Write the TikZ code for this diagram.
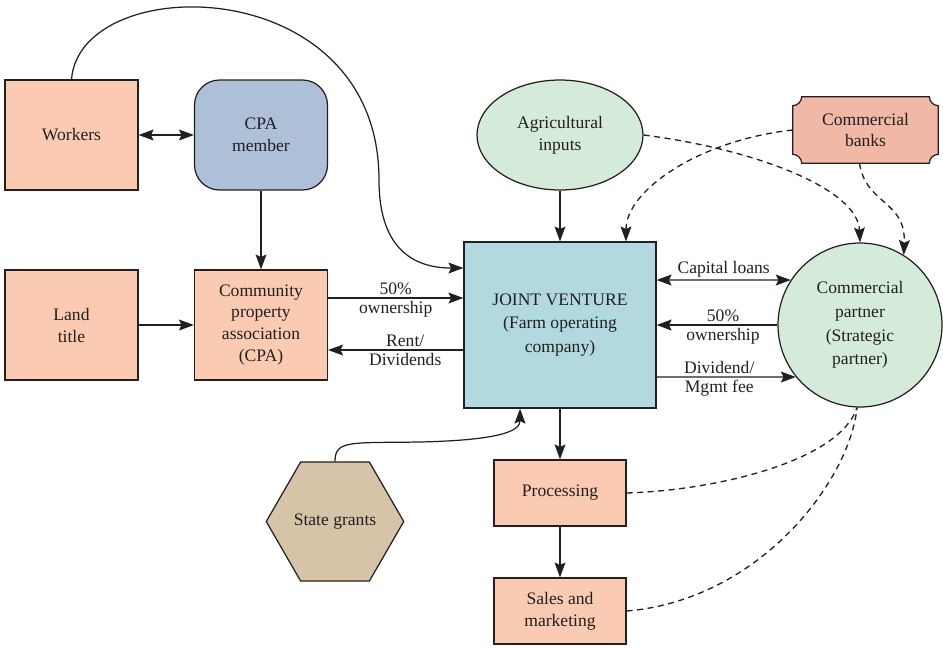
\documentclass[tikz,border=0pt]{standalone}
\usepackage{fontspec}
\setmainfont{Liberation Serif}
\usepackage{tikz}
\usetikzlibrary{positioning,calc}
\usetikzlibrary{arrows.meta,shapes.geometric,backgrounds}
\definecolor{InkGray}{RGB}{35,31,32}
\definecolor{PeachFill}{RGB}{250,203,178}
\definecolor{MemberBlue}{RGB}{174,191,216}
\definecolor{VentureBlue}{RGB}{179,217,224}
\definecolor{MintFill}{RGB}{213,235,218}
\definecolor{BankSalmon}{RGB}{241,184,165}
\definecolor{GrantTan}{RGB}{213,196,168}
\tikzset{
	>={Stealth[length=8.5pt,width=6.2pt,inset=1.5pt]},
	every node/.style={text=InkGray,font=\fontsize{10}{12.5}\selectfont},
	box/.style={draw=InkGray,fill=PeachFill,line width=0.7pt,align=center,
		minimum width=2.66cm,minimum height=2.2cm,inner sep=2pt},
	flowbox/.style={box,minimum width=2.64cm,minimum height=1.32cm},
	rbox/.style={box,fill=MemberBlue,rounded corners=0.5cm},
	venture/.style={box,fill=VentureBlue,minimum width=3.84cm,minimum height=3.32cm,
		font=\fontsize{10}{13.5}\selectfont},
	oval/.style={draw=InkGray,fill=MintFill,line width=0.7pt,ellipse,align=center,
		minimum width=3.32cm,minimum height=2.2cm,inner sep=0pt},
	disc/.style={draw=InkGray,fill=MintFill,line width=0.7pt,circle,align=center,
		minimum size=3.28cm,inner sep=0pt,font=\fontsize{10}{13.5}\selectfont},
	hexa/.style={draw=InkGray,fill=GrantTan,line width=0.7pt,regular polygon,
		regular polygon sides=6,minimum size=2.75cm,inner sep=0pt},
	plaque/.style={align=center,minimum width=2.9cm,minimum height=1.32cm,inner sep=0pt},
	link/.style={draw=InkGray,line width=0.7pt},
	dlink/.style={link,line width=0.75pt,dash pattern=on 3.4pt off 2.6pt},
	lbl/.style={inner sep=1.5pt},
}

\begin{document}
\begin{tikzpicture}[x=0.02cm,y=0.02cm]
	\useasboundingbox (0,0) rectangle (943,-647);
	% boxes on the left
	\node[box] (workers) at (71.5,-135) {Workers};
	\node[rbox] (member) at (261,-135) {CPA\\member};
	\node[box] (land) at (71.5,-325) {Land\\title};
	\node[box] (cpa) at (261,-325) {Community\\property\\association\\(CPA)};
	% centre column
	\node[oval] (inputs) at (560,-135) {Agricultural\\inputs};
	\node[venture] (jv) at (560,-325) {JOINT VENTURE\\(Farm operating\\company)};
	\node[flowbox] (proc) at (560,-493) {Processing};
	\node[flowbox] (sales) at (560,-611) {Sales and\\marketing};
	\node[hexa] (grants) at (335,-521.5) {State grants};
	% right side
	\node[plaque] (banks) at (865.5,-130) {Commercial\\banks};
	\node[disc] (partner) at (860,-325) {Commercial\\partner\\(Strategic\\partner)};
	\begin{scope}[on background layer]
		\draw[link,fill=BankSalmon] ([xshift=0.18cm]banks.north west) -- ([xshift=-0.18cm]banks.north east)
			arc[start angle=180,end angle=270,radius=0.18cm] -- ([yshift=0.18cm]banks.south east)
			arc[start angle=90,end angle=180,radius=0.18cm] -- ([xshift=0.18cm]banks.south west)
			arc[start angle=0,end angle=90,radius=0.18cm] -- ([yshift=-0.18cm]banks.north west)
			arc[start angle=270,end angle=360,radius=0.18cm] -- cycle;
	\end{scope}
	% solid connectors
	\draw[link,<->] (workers) -- (member);
	\draw[link,->] (member) -- (cpa);
	\draw[link,->] (land) -- (cpa);
	\draw[link,->] ([yshift=0.54cm]cpa.east) -- ([yshift=0.54cm]jv.west)
		node[lbl,above,midway] {50\%} node[lbl,below,midway] {ownership};
	\draw[link,->] ([yshift=-0.5cm]jv.west) -- ([yshift=-0.5cm]cpa.east)
		node[lbl,above,pos=0.43] {Rent/} node[lbl,below,pos=0.43] {Dividends};
	\draw[link,->] (workers.north) .. controls (80,30) and (379,30) .. (379,-180)
		.. controls (379,-255) and (420,-268) .. ([yshift=1.14cm]jv.west);
	\draw[link,->] (inputs) -- (jv);
	\draw[link,<->] ([yshift=0.9cm]jv.east) -- (partner.147)
		node[lbl,above,midway] {Capital loans};
	\draw[link,->] (partner.west) -- (jv.east)
		node[lbl,above,pos=0.45] {50\%} node[lbl,below,pos=0.45] {ownership};
	\draw[link,->] ([yshift=-1.04cm]jv.east) -- (partner.219)
		node[lbl,above,pos=0.45] {Dividend/} node[lbl,below,pos=0.45] {Mgmt fee};
	\draw[link,->] (jv) -- (proc);
	\draw[link,->] (proc) -- (sales);
	\draw[link,->] (grants.north) .. controls (335,-440) and (350,-443) .. (420,-442)
		.. controls (505,-440) and (520,-430) .. ([xshift=-0.8cm]jv.south);
	% dashed connectors
	\draw[dlink,->] (inputs.east) .. controls (760,-150) and (858,-190) .. (partner.north);
	\draw[dlink,->] (banks.west) .. controls (700,-140) and (626,-190) .. ([xshift=1.32cm]jv.north);
	\draw[dlink,->] ([xshift=-0.12cm]banks.south) .. controls (866,-205) and (906,-200) .. (partner.58);
	\draw[dlink] (proc.east) .. controls (720,-490) and (840,-460) .. ([xshift=-0.06cm]partner.south);
	\draw[dlink] (sales.east) .. controls (760,-600) and (850,-480) .. ([xshift=-0.06cm]partner.south);
\end{tikzpicture}
\end{document}
